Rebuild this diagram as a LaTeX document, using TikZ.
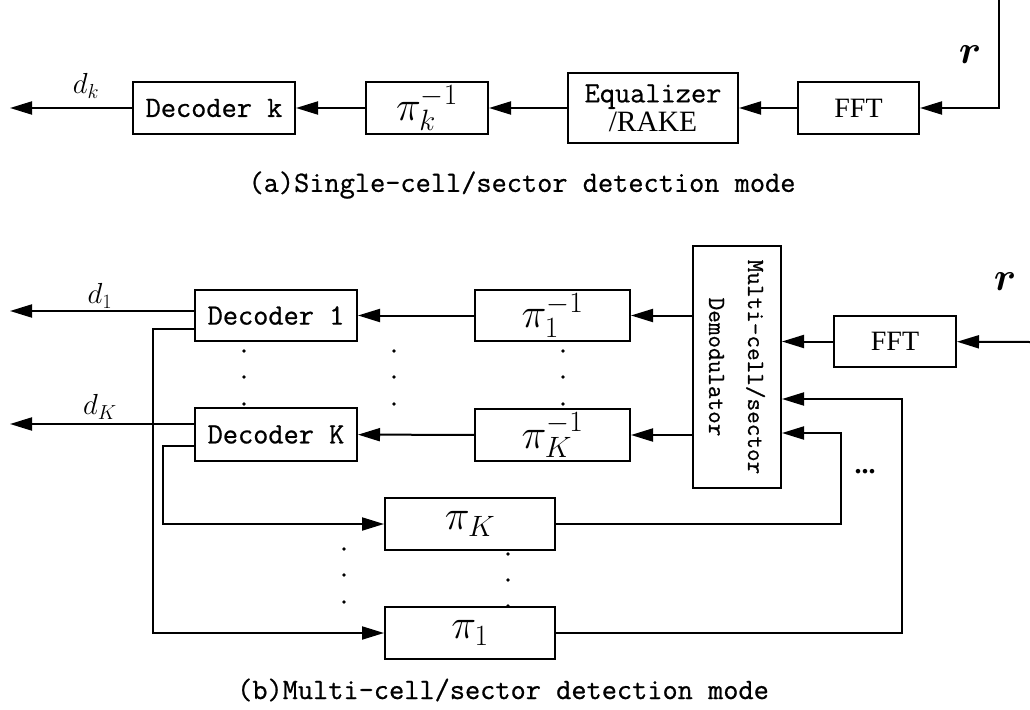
\documentclass[tikz,border=0pt]{standalone}
\usepackage{fix-cm}
\usepackage{fontspec}
\setmonofont{Latin Modern Mono}[FakeBold=0.7]
\newfontfamily\timesfont{Liberation Serif}
\usepackage{amsmath}
\usetikzlibrary{arrows.meta}

\begin{document}
\begin{tikzpicture}[x=1pt, y=-1pt,
    every node/.style={font=\fontsize{29.5}{31}\selectfont\ttfamily},
    blk/.style={draw, line width=2pt, inner sep=0pt, minimum height=52pt},
    sig/.style={line width=2pt, -{Triangle[length=22pt,width=13pt]}},
    lbl/.style={font=\fontsize{29}{31}\selectfont},
    pilbl/.style={font=\fontsize{42}{44}\selectfont},
    dotcol/.style={fill=black}]
    \useasboundingbox (0,0) rectangle (1030,709);

    % (a) single cell
    \node[blk, minimum width=162pt] (deck) at (214,108) {Decoder k};
    \node[blk, minimum width=122pt, pilbl] (piinvk) at (427,108) {$\pi_k^{-1}$};
    \node[blk, minimum width=170pt, minimum height=70pt, align=center] (eq) at (653,108)
        {Equalizer\\[-2pt]{\timesfont /RAKE}};
    \node[blk, minimum width=121pt, font=\fontsize{28}{30}\selectfont\timesfont] (ffta) at (858.5,108) {FFT};
    \coordinate (rina) at (999,0);
    \coordinate (dkout) at (10,108);
    \draw[sig] (rina) |- (ffta.east);
    \draw[sig] (ffta) -- (eq);
    \draw[sig] (eq) -- (piinvk);
    \draw[sig] (piinvk) -- (deck);
    \draw[sig] (deck) -- (dkout);
    \node[lbl] (dk) at (86,86) {$d_k$};
    \node[font=\fontsize{40}{42}\selectfont] (ra) at (970,55) {$\boldsymbol{r}$};
    \node (capa) at (522,185) {(a)Single-cell/sector detection mode};

    % (b) multi cell
    \node[blk, minimum width=162pt, minimum height=51pt] (dec1) at (276,315.5) {Decoder 1};
    \node[blk, minimum width=162pt, minimum height=53pt] (decK) at (276,434.5) {Decoder K};
    \node[blk, minimum width=155pt, minimum height=51pt, pilbl] (pinv1) at (552.5,315.5) {$\pi_1^{-1}$};
    \node[blk, minimum width=155pt, pilbl] (pinvK) at (552.5,435) {$\pi_K^{-1}$};
    \node[blk, minimum width=88pt, minimum height=242pt] (demod) at (737,367) {};
    \node[rotate=-90, align=center, font=\fontsize{24.5}{39}\selectfont\ttfamily] (demodtxt) at (demod.center)
        {Multi-cell/sector\\Demodulator};
    \node[blk, minimum width=122pt, minimum height=51pt, font=\fontsize{28}{30}\selectfont\timesfont] (fftb) at (895,341.5) {FFT};
    \node[blk, minimum width=170pt, pilbl] (piK) at (470,524) {$\pi_{K}$};
    \node[blk, minimum width=170pt, pilbl] (pi1) at (470,633) {$\pi_1$};

    \coordinate (rinb) at (1030,342);
    \coordinate (d1out) at (10,311);
    \coordinate (dKout) at (10,424);
    \coordinate (fb1) at (153,633);
    \coordinate (fbK) at (163,524);
    \coordinate (fbA) at (841,433);
    \coordinate (fbB) at (902,399);

    \draw[sig] (rinb) -- (fftb);
    \draw[sig] (fftb) -- (demod.east |- fftb);
    \draw[sig] (demod.west |- pinv1) -- (pinv1);
    \draw[sig] (demod.west |- pinvK) -- (pinvK);
    \draw[sig] (pinv1) -- (dec1);
    \draw[sig] (pinvK) -- (decK);
    \draw[sig] ([yshift=4.5pt]dec1.west) -- (d1out);
    \draw[sig] ([yshift=10.5pt]decK.west) -- (dKout);
    % feedback
    \draw[sig] ([yshift=-13.5pt]dec1.west) -| (fb1) -- (pi1);
    \draw[sig] ([yshift=-11.5pt]decK.west) -| (fbK) -- (piK);
    \draw[sig] (piK.east) -| (fbA) -- (demod.east |- fbA);
    \draw[sig] (pi1.east) -| (fbB) -- (demod.east |- fbB);

    \node[lbl] (d1) at (100,296) {$d_1$};
    \node[lbl] (dK) at (100,407) {$d_K$};
    \node[font=\fontsize{40}{42}\selectfont] (rb) at (1005,282) {$\boldsymbol{r}$};
    \node[font=\fontsize{28}{30}\selectfont\timesfont\bfseries] (more) at (865,472) {...};
    \node (capb) at (503,690) {(b)Multi-cell/sector detection mode};

    % dots
    \fill[dotcol] (244,351) circle (1.8) (244,377) circle (1.8) (244,404) circle (1.8);
    \fill[dotcol] (394,351) circle (1.8) (394,377) circle (1.8) (394,404) circle (1.8);
    \fill[dotcol] (563,351) circle (1.8) (563,377) circle (1.8) (563,404) circle (1.8);
    \fill[dotcol] (344,549) circle (1.8) (344,575) circle (1.8) (344,602) circle (1.8);
    \fill[dotcol] (508,554) circle (1.8) (508,580) circle (1.8) (508,606) circle (1.8);
\end{tikzpicture}
\end{document}
